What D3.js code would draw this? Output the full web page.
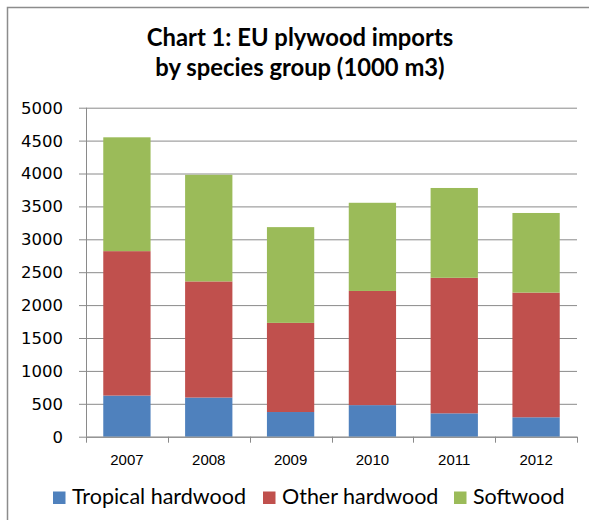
<!DOCTYPE html>
<html>
<head>
<meta charset="utf-8">
<script src="https://cdn.jsdelivr.net/npm/d3@7"></script>
<style>
  html, body { margin: 0; padding: 0; background: #fff; }
  svg { display: block; }
</style>
</head>
<body>
<svg id="chart" width="589" height="520"></svg>
<script>
// EU plywood imports by species group, thousand cubic metres
const years = ["2007", "2008", "2009", "2010", "2011", "2012"];
const tropicalHardwood = [625, 595, 375, 480, 355, 295];
const otherHardwood = [2195, 1765, 1355, 1735, 2060, 1895];
const softwood = [1730, 1620, 1455, 1340, 1365, 1210];
const seriesNames = ["Tropical hardwood", "Other hardwood", "Softwood"];
const yTicks = [0, 500, 1000, 1500, 2000, 2500, 3000, 3500, 4000, 4500, 5000];
const titleLines = ["Chart 1: EU plywood imports", "by species group (1000 m3)"];

const colors = ["#4F81BD", "#C0504D", "#9BBB59"];
const gridColor = "#8a8a8a";

const svg = d3.select("#chart");

// outer chart frame
svg.append("rect")
  .attr("x", 7.5).attr("y", 7.5)
  .attr("width", 600).attr("height", 600)
  .attr("fill", "none")
  .attr("stroke", "#8c8c8c")
  .attr("stroke-width", 1.5);

const plot = { left: 86, right: 577, top: 107.7, bottom: 436.7 };

const x = d3.scaleBand()
  .domain(years)
  .range([plot.left, plot.right])
  .paddingInner(0.422)
  .paddingOuter(0.211);

const xBoundary = d3.scaleLinear()
  .domain([0, years.length])
  .range([plot.left, plot.right]);

const y = d3.scaleLinear()
  .domain([0, 5000])
  .range([plot.bottom, plot.top]);

// horizontal gridlines with left tick marks
const yAxis = d3.axisLeft(y)
  .tickValues(yTicks)
  .tickSize(-(plot.right - plot.left))
  .tickFormat("");

const gy = svg.append("g")
  .attr("transform", `translate(${plot.left},0)`)
  .call(yAxis);
gy.select(".domain").remove();
gy.selectAll(".tick line")
  .attr("x1", -7)
  .attr("stroke", gridColor)
  .attr("stroke-width", 1);

// y tick labels
svg.append("g").selectAll("text")
  .data(yTicks)
  .join("text")
  .attr("x", 63)
  .attr("y", d => y(d))
  .attr("dy", "0.36em")
  .attr("text-anchor", "end")
  .attr("font-family", "DejaVu Sans, sans-serif")
  .attr("font-size", 16.5)
  .attr("fill", "#000")
  .text(d => d);

// stacked bars
const rows = years.map((yr, i) => ({
  year: yr,
  "Tropical hardwood": tropicalHardwood[i],
  "Other hardwood": otherHardwood[i],
  "Softwood": softwood[i]
}));
const stacked = d3.stack().keys(seriesNames)(rows);

svg.append("g").selectAll("g")
  .data(stacked)
  .join("g")
  .attr("fill", (d, i) => colors[i])
  .selectAll("rect")
  .data(d => d)
  .join("rect")
  .attr("x", d => x(d.data.year))
  .attr("width", x.bandwidth())
  .attr("y", d => y(d[1]))
  .attr("height", d => y(d[0]) - y(d[1]));

// vertical axis line
svg.append("line")
  .attr("x1", plot.left + 0.5).attr("x2", plot.left + 0.5)
  .attr("y1", plot.top).attr("y2", plot.bottom)
  .attr("stroke", gridColor);

// horizontal axis with category boundary ticks
svg.append("line")
  .attr("x1", plot.left).attr("x2", plot.right)
  .attr("y1", plot.bottom + 0.5).attr("y2", plot.bottom + 0.5)
  .attr("stroke", gridColor);
svg.append("g").selectAll("line")
  .data(d3.range(years.length + 1))
  .join("line")
  .attr("x1", d => Math.round(xBoundary(d)) + 0.5)
  .attr("x2", d => Math.round(xBoundary(d)) + 0.5)
  .attr("y1", plot.bottom)
  .attr("y2", plot.bottom + 6)
  .attr("stroke", gridColor);

// x labels
svg.append("g").selectAll("text")
  .data(years)
  .join("text")
  .attr("x", d => x(d) + x.bandwidth() / 2)
  .attr("y", 465)
  .attr("text-anchor", "middle")
  .attr("font-family", "Liberation Sans, Arial, sans-serif")
  .attr("font-size", 15)
  .attr("fill", "#000")
  .text(d => d);

// title
svg.append("g").selectAll("text")
  .data(titleLines)
  .join("text")
  .attr("x", 300)
  .attr("y", (d, i) => 46 + i * 30)
  .attr("text-anchor", "middle")
  .attr("font-family", "Lato, sans-serif")
  .attr("font-weight", "bold")
  .attr("font-size", 23.8)
  .attr("fill", "#000")
  .text(d => d);

// legend
const legendX = [53, 263, 454];
const legend = svg.append("g").selectAll("g")
  .data(seriesNames)
  .join("g")
  .attr("transform", (d, i) => `translate(${legendX[i]},0)`);
legend.append("rect")
  .attr("x", 0).attr("y", 491.5)
  .attr("width", 12.5).attr("height", 12.5)
  .attr("fill", (d, i) => colors[i]);
legend.append("text")
  .attr("x", 19)
  .attr("y", 504)
  .attr("font-family", "Lato, sans-serif")
  .attr("font-size", 21.5)
  .attr("fill", "#000")
  .text(d => d);
</script>
</body>
</html>
